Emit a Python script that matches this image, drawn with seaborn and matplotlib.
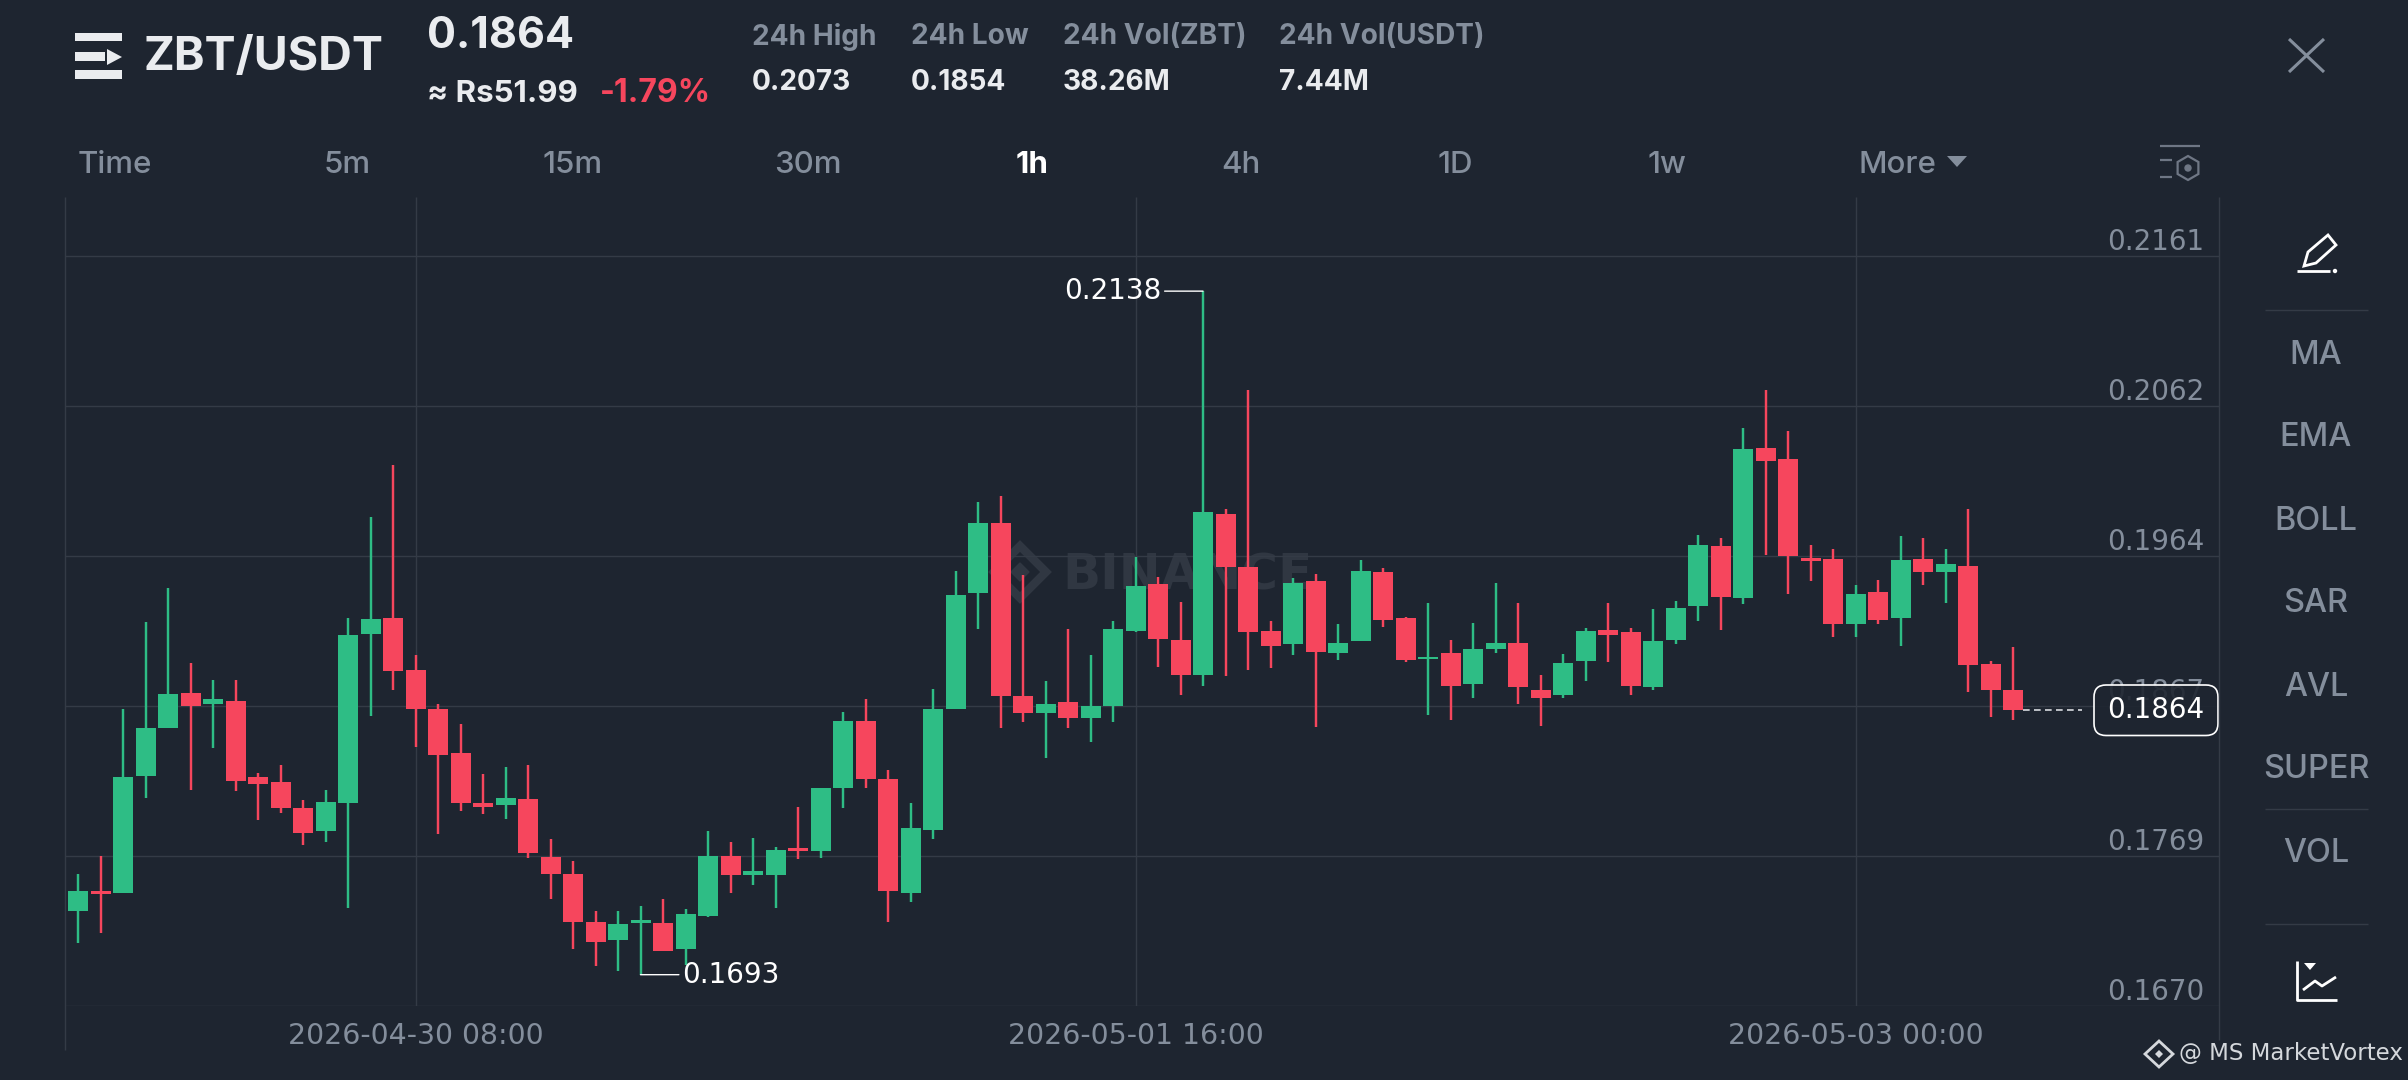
import numpy as np
import pandas as pd
import matplotlib
matplotlib.use("Agg")
import matplotlib.pyplot as plt
from matplotlib.patches import Polygon, FancyBboxPatch, Circle, RegularPolygon
from matplotlib.lines import Line2D
import seaborn as sns

highs = [.17562,.17682,.18644,.19211,.19439,.18948,.18835,.18835,.18226,.18276,.18046,.18113,.19238,.19902,.20243,.18998,.18677,.18547,.18216,.18266,.18276,.17793,.17652,.17322,.17322,.17352,.17402,.17332,.17843,.17773,.17803,.17743,.18006,.18126,.18624,.18707,.18246,.18026,.18775,.19549,.20002,.20042,.19519,.18827,.19168,.18998,.19218,.19641,.19509,.19348,.2138,.19954,.20735,.19220,.19500,.19528,.19199,.19620,.19570,.19247,.19338,.19096,.19210,.19471,.19338,.18867,.19007,.19177,.19338,.19177,.19299,.19349,.19781,.19762,.20484,.20735,.20464,.19720,.19692,.19458,.19491,.19779,.19762,.19692,.19952,.18956,.19048]
opens = [.17322,.17452,.17442,.18206,.18517,.18747,.18677,.18697,.18196,.18166,.17996,.17845,.18026,.19138,.19241,.18897,.18647,.18354,.18026,.18016,.18056,.17675,.17562,.17252,.17131,.17242,.17242,.17071,.17292,.17682,.17560,.17555,.17735,.17712,.18126,.18567,.18186,.17442,.17855,.18647,.19401,.19862,.18727,.18617,.18687,.18587,.18667,.19158,.19461,.19098,.18867,.19921,.19572,.19157,.19070,.19480,.19009,.19090,.19541,.19238,.18970,.19009,.18808,.19037,.19079,.18769,.18738,.18959,.19159,.19148,.18788,.19098,.19321,.19711,.19369,.20353,.20283,.19631,.19629,.19199,.19408,.19240,.19629,.19541,.19581,.18939,.18767]
closes = [.17452,.17432,.18196,.18517,.18740,.18667,.18707,.18176,.18156,.17996,.17833,.18036,.19128,.19231,.18890,.18647,.18346,.18026,.18006,.18063,.17702,.17562,.17252,.17121,.17239,.17262,.17061,.17302,.17682,.17555,.17582,.17722,.17712,.18126,.18567,.18186,.17452,.17863,.18647,.19391,.19862,.18727,.18617,.18677,.18587,.18667,.19168,.19449,.19100,.18870,.19932,.19572,.19151,.19059,.19471,.19020,.19079,.19550,.19229,.18967,.18987,.18797,.19037,.19079,.18788,.18716,.18948,.19157,.19127,.18797,.19090,.19308,.19720,.19380,.20344,.20266,.19644,.19611,.19199,.19397,.19229,.19620,.19541,.19591,.18930,.18767,.18636]
lows = [.17111,.17181,.17442,.18063,.18517,.18116,.18386,.18106,.17915,.17966,.17753,.17773,.17342,.18597,.18767,.18396,.17825,.17976,.17955,.17925,.17672,.17402,.17071,.16961,.16931,.16905,.17061,.16971,.17282,.17442,.17492,.17342,.17662,.17672,.17996,.18126,.17252,.17382,.17793,.18647,.19168,.18517,.18557,.18326,.18517,.18426,.18557,.19150,.18917,.18737,.18797,.18858,.18898,.18915,.18998,.18524,.18967,.19090,.19179,.18950,.18607,.18575,.18716,.19009,.18677,.18535,.18719,.18826,.18950,.18738,.18769,.19068,.19218,.19159,.19330,.19650,.19399,.19480,.19118,.19118,.19199,.19057,.19458,.19338,.18758,.18594,.18575]

grid_levels = [.2161, .20628, .19646, .18664, .17682, .1670]
grid_labels = ["0.2161", "0.2062", "0.1964", "0.1867", "0.1769", "0.1670"]
time_index = [15, 47, 79]
time_labels = ["2026-04-30 08:00", "2026-05-01 16:00", "2026-05-03 00:00"]
hi_label, lo_label, last_label = "0.2138", "0.1693", "0.1864"
tabs = ["Time", "5m", "15m", "30m", "1h", "4h", "1D", "1w", "More"]
indicators = ["MA", "EMA", "BOLL", "SAR", "AVL", "SUPER", "VOL"]
stats_head = ["24h High", "24h Low", "24h Vol(ZBT)", "24h Vol(USDT)"]
stats_vals = ["0.2073", "0.1854", "38.26M", "7.44M"]

BG, GRID, GRAY = "#1e2530", "#343b46", "#848e9c"
UP, DOWN, LIGHT = "#2ebd85", "#f6465d", "#eaecef"

sns.set_theme(style="dark", rc={"figure.facecolor": BG, "axes.facecolor": "none",
                                "lines.solid_capstyle": "butt", "grid.color": GRID,
                                "grid.linewidth": 1.0})
plt.rcParams["lines.solid_capstyle"] = "butt"
plt.rcParams["font.family"] = ["Inter", "DejaVu Sans"]

W, H = 2408, 1080
fig = plt.figure(figsize=(W / 100, H / 100), dpi=100, facecolor=BG)

def full_axes(z):
    a = fig.add_axes([0, 0, 1, 1], zorder=z)
    a.set_xlim(0, W); a.set_ylim(H, 0); a.axis("off")
    return a

back = full_axes(0)
top = full_axes(3)

# main chart axes: px box x 65..2220, y 197..1006
ax = fig.add_axes([65 / W, 1 - 1006 / H, (2220 - 65) / W, (1006 - 197) / H], zorder=1)
ax.set_facecolor("none")

n = len(highs)
idx = np.arange(n)
direction = np.where(np.array(closes) >= np.array(opens), "up", "down")
base = pd.DataFrame({"idx": idx, "dir": direction, "high": highs, "low": lows,
                     "open": opens, "close": closes})
wicks = base.melt(id_vars=["idx", "dir"], value_vars=["high", "low"], value_name="price")
bodies = base.melt(id_vars=["idx", "dir"], value_vars=["open", "close"], value_name="price")
pal = {"up": UP, "down": DOWN}
sns.lineplot(data=wicks, x="idx", y="price", hue="dir", units="idx", estimator=None, sort=False,
             palette=pal, legend=False, linewidth=1.75, ax=ax, zorder=3)
sns.lineplot(data=bodies, x="idx", y="price", hue="dir", units="idx", estimator=None, sort=False,
             palette=pal, legend=False, linewidth=14.4, ax=ax, zorder=4)

ax.set_xlim((65 - 78) / 22.5, (2220 - 78) / 22.5)
ax.set_ylim(.1670, .1670 + (1006 - 197) * 6.5467e-5)
ax.set_xlabel(""); ax.set_ylabel("")
ax.set_xticks(time_index)
ax.set_xticklabels(time_labels, fontfamily="DejaVu Sans", fontsize=20.4, color=GRAY)
ax.yaxis.tick_right()
ax.set_yticks(grid_levels)
ax.set_yticklabels(grid_labels, fontfamily="DejaVu Sans", fontsize=20, color=GRAY, ha="right", va="bottom")
ax.tick_params(axis="y", length=0, pad=-11.5)
ax.tick_params(axis="x", length=0, pad=11.5)
ax.grid(True, color=GRID, linewidth=1.0)
ax.set_axisbelow(True)
for s in ax.spines.values():
    s.set_visible(False)

# high / low callouts
ax.annotate(hi_label, xy=(int(np.argmax(highs)), max(highs)), xytext=(-30, 0), textcoords="offset points",
            ha="right", va="center", color="white", fontsize=20, fontfamily="DejaVu Sans",
            arrowprops=dict(arrowstyle="-", color="white", lw=1, shrinkA=0, shrinkB=0), zorder=6)
ax.annotate(lo_label, xy=(int(np.argmin(lows)), min(lows)), xytext=(30, 0), textcoords="offset points",
            ha="left", va="center", color="white", fontsize=20, fontfamily="DejaVu Sans",
            arrowprops=dict(arrowstyle="-", color="white", lw=1, shrinkA=0, shrinkB=0), zorder=6)

# last price dashed leader
ax.plot([n - 1 + 0.45, n - 1 + 0.45 + 2.6], [closes[-1]] * 2, color="#d8dbe0", lw=1.2, ls=(0, (4, 2.6)), zorder=2)

# background watermark
back.text(1187, 575, "BINANCE", color="#303742", fontsize=36, fontweight="bold", ha="center", va="center",
          fontfamily="DejaVu Sans")
back.add_patch(Polygon([(1020, 546), (1046, 572), (1020, 598), (994, 572)], closed=True, fill=False,
                       edgecolor="#303742", lw=6))
back.add_patch(Polygon([(1020, 563), (1029, 572), (1020, 581), (1011, 572)], closed=True, color="#303742"))

# frame verticals
for x, y2 in [(65, 1050), (2219, 1040)]:
    top.add_line(Line2D([x, x], [197, y2], color=GRID, lw=1))

# header
top.add_patch(plt.Rectangle((75, 33), 47, 8, color=LIGHT, lw=0))
top.add_patch(plt.Rectangle((75, 52), 30, 9, color=LIGHT, lw=0))
top.add_patch(plt.Rectangle((75, 70), 47, 9, color=LIGHT, lw=0))
top.add_patch(Polygon([(107, 49), (122, 57), (107, 65)], closed=True, color=LIGHT, lw=0))
top.text(144, 58, "ZBT/USDT", color=LIGHT, fontsize=33.5, fontweight="bold", va="center")
top.text(427, 37, "0.1864", color=LIGHT, fontsize=31, fontweight="bold", va="center")
top.text(427, 94, "≈ Rs51.99", color=LIGHT, fontsize=22.5, fontweight="bold", va="center")
top.text(600, 94, "-1.79%", color=DOWN, fontsize=23, fontweight="bold", va="center")
for x, h, v in zip([752, 911, 1063, 1279], stats_head, stats_vals):
    top.text(x, 37, h, color=GRAY, fontsize=20.2, fontweight="bold", va="center")
    top.text(x, 82, v, color=LIGHT, fontsize=20.2, fontweight="bold", va="center")

for x, t in zip([115, 347, 573, 808, 1032, 1241, 1455, 1667, 1897], tabs):
    active = t == "1h"
    top.text(x, 165, t, color="white" if active else GRAY, fontsize=22.5,
             fontweight="bold" if active else "medium", ha="center", va="center")
top.add_patch(Polygon([(1947, 156), (1967, 156), (1957, 167)], closed=True, color=GRAY, lw=0))

# close icon & settings icon
top.add_line(Line2D([2289, 2324], [39, 72], color=GRAY, lw=2.2))
top.add_line(Line2D([2289, 2324], [72, 39], color=GRAY, lw=2.2))
S = "#6f7785"
top.add_line(Line2D([2160, 2200], [146, 146], color=S, lw=1.6))
top.add_line(Line2D([2160, 2172], [160, 160], color=S, lw=1.6))
top.add_line(Line2D([2160, 2172], [177, 177], color=S, lw=1.6))
top.add_patch(RegularPolygon((2188, 168), 6, radius=12, fill=False, edgecolor=S, lw=1.6))
top.add_patch(Circle((2188, 168), 3, color=S))

# right toolbar
for y, t in zip([355, 438, 521, 604, 687, 770, 853], indicators):
    top.text(2316, y, t, color=GRAY, fontsize=23.4, fontweight="medium", ha="center", va="center")
for y in [310, 809, 924]:
    top.add_line(Line2D([2265, 2368], [y, y], color=GRID, lw=1))
top.add_patch(Polygon([(2304, 266), (2308, 252), (2328, 235), (2336, 245), (2316, 263)], closed=True,
                      fill=False, edgecolor="white", lw=2))
top.add_line(Line2D([2297, 2330], [271, 271], color="white", lw=2))
top.add_patch(Circle((2335, 271), 1.5, color="white"))
top.add_line(Line2D([2297, 2297, 2337], [961, 1000, 1000], color="white", lw=2))
top.add_line(Line2D([2303, 2315, 2322, 2336], [990, 981, 986, 977], color="white", lw=2))
top.add_patch(Polygon([(2304, 963), (2316, 963), (2310, 970)], closed=True, color="white", lw=0))

# last-price box
top.add_patch(FancyBboxPatch((2094, 685), 124, 50.5, boxstyle="round,pad=0,rounding_size=12",
                             facecolor=BG + "e6", edgecolor="white", lw=1.2))
top.text(2204, 710, last_label, color="white", fontsize=20, fontfamily="DejaVu Sans", ha="right", va="center")

# bottom right credit
top.add_patch(Polygon([(2159, 1041), (2173, 1054), (2159, 1067), (2145, 1054)], closed=True, fill=False,
                      edgecolor="#d5d8dc", lw=2))
top.add_patch(Polygon([(2159, 1050), (2163, 1054), (2159, 1058), (2155, 1054)], closed=True, color="#d5d8dc", lw=0))
top.text(2179, 1054, "@ MS MarketVortex", color="#d5d8dc", fontsize=16.5, fontfamily="DejaVu Sans", va="center")

fig.savefig("out.png", dpi=100, facecolor=BG)
